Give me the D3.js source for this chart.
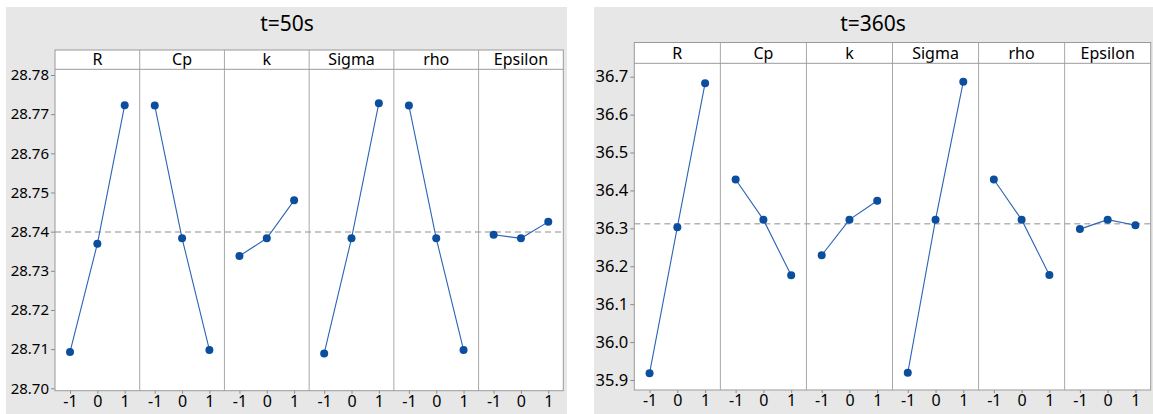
<!DOCTYPE html>
<html>
<head>
<meta charset="utf-8">
<script src="https://cdn.jsdelivr.net/npm/d3@7"></script>
<style>
  html, body { margin: 0; padding: 0; background: #fff; }
  svg { display: block; font-family: "Noto Sans", "Open Sans", sans-serif; }
  .frame { fill: none; stroke: #9a9a9a; stroke-width: 1; }
  .divider { stroke: #a8a8a8; stroke-width: 1; }
  .ref { stroke: #b4b4b4; stroke-width: 1.5; stroke-dasharray: 6 4; }
  .effect { fill: none; stroke: #2b64b4; stroke-width: 1.1; }
  .dot { fill: #0c4e9e; }
</style>
</head>
<body>
<svg id="chart" width="1153" height="414"></svg>
<script>
const factors = ["R", "Cp", "k", "Sigma", "rho", "Epsilon"];
const levels = [-1, 0, 1];

const titles = ["t=50s", "t=360s"];

// mean response per factor level (-1, 0, 1)
const values50 = [
  [28.7093, 28.7369, 28.7723],
  [28.7722, 28.7383, 28.7098],
  [28.7338, 28.7383, 28.7480],
  [28.7089, 28.7383, 28.7728],
  [28.7722, 28.7383, 28.7098],
  [28.7392, 28.7383, 28.7425]
];
const values360 = [
  [35.918, 36.303, 36.683],
  [36.429, 36.323, 36.176],
  [36.229, 36.323, 36.373],
  [35.919, 36.323, 36.687],
  [36.429, 36.323, 36.177],
  [36.298, 36.323, 36.308]
];

const grandMeans = [28.7399, 36.312];

const yTicks50 = [28.70, 28.71, 28.72, 28.73, 28.74, 28.75, 28.76, 28.77, 28.78];
const yTicks360 = [35.9, 36.0, 36.1, 36.2, 36.3, 36.4, 36.5, 36.6, 36.7];

const svg = d3.select("#chart");

const panels = [
  {
    title: titles[0], values: values50, mean: grandMeans[0], ticks: yTicks50, fmt: d3.format(".2f"),
    bg: [6, 7, 567, 414], frame: [55, 563.3], strip: [50, 69.3], plotBottom: 390.7,
    yDomain: [28.70, 28.78], yRange: [388.3, 75], tickFont: 15, titleX: 287
  },
  {
    title: titles[1], values: values360, mean: grandMeans[1], ticks: yTicks360, fmt: d3.format(".1f"),
    bg: [594, 7, 1153, 414], frame: [634.3, 1150.7], strip: [42.5, 63.3], plotBottom: 390,
    yDomain: [35.9, 36.7], yRange: [380, 76.7], tickFont: 16.5, titleX: 873
  }
];

const styleAxisText = (a, size) => {
  a.select(".domain").remove();
  a.selectAll("line").attr("stroke", "#8a8a8a");
  a.selectAll("text")
    .attr("font-size", size)
    .attr("font-family", "'Noto Sans', sans-serif")
    .attr("fill", "#000");
};

const drawPanel = (p) => {
  const g = svg.append("g");
  const [bx0, by0, bx1, by1] = p.bg;
  g.append("rect")
    .attr("x", bx0).attr("y", by0)
    .attr("width", bx1 - bx0).attr("height", by1 - by0)
    .attr("fill", "#e7e7e7");

  g.append("text")
    .attr("x", p.titleX).attr("y", 31)
    .attr("text-anchor", "middle")
    .attr("font-size", 21)
    .attr("fill", "#000")
    .text(p.title);

  const [x0, x1] = p.frame;
  const [sTop, sBottom] = p.strip;

  const fx = d3.scaleBand().domain(factors).range([x0, x1]);
  const y = d3.scaleLinear().domain(p.yDomain).range(p.yRange);

  g.append("rect")
    .attr("x", x0).attr("y", sTop)
    .attr("width", x1 - x0).attr("height", p.plotBottom - sTop)
    .attr("fill", "#fff");

  // y axis
  g.append("g")
    .attr("transform", `translate(${x0},0)`)
    .call(d3.axisLeft(y).tickValues(p.ticks).tickFormat(p.fmt).tickSize(4).tickPadding(2))
    .call((a) => styleAxisText(a, p.tickFont));

  // reference line at grand mean
  g.append("line")
    .attr("class", "ref")
    .attr("x1", x0).attr("x2", x1)
    .attr("y1", y(p.mean)).attr("y2", y(p.mean));

  factors.forEach((f, i) => {
    const left = fx(f);
    const x = d3.scaleLinear().domain([-1.55, 1.55]).range([left, left + fx.bandwidth()]);

    g.append("text")
      .attr("x", left + fx.bandwidth() / 2)
      .attr("y", sBottom - 4.5)
      .attr("text-anchor", "middle")
      .attr("font-size", 16)
      .attr("fill", "#000")
      .text(f);

    if (i > 0) {
      g.append("line")
        .attr("class", "divider")
        .attr("x1", left).attr("x2", left)
        .attr("y1", sTop).attr("y2", p.plotBottom);
    }

    g.append("g")
      .attr("transform", `translate(0,${p.plotBottom})`)
      .call(d3.axisBottom(x).tickValues(levels).tickFormat(d3.format("d")).tickSize(3).tickPadding(2))
      .call((a) => styleAxisText(a, 16))
      .call((a) => a.selectAll("text").text((d) => (d < 0 ? "-" + Math.abs(d) : d)));

    const pts = levels.map((lv, j) => [x(lv), y(p.values[i][j])]);

    g.append("path")
      .attr("class", "effect")
      .attr("d", d3.line()(pts));

    g.selectAll(null)
      .data(pts)
      .enter()
      .append("circle")
      .attr("class", "dot")
      .attr("cx", (d) => d[0])
      .attr("cy", (d) => d[1])
      .attr("r", 4);
  });

  g.append("line")
    .attr("stroke", "#9a9a9a")
    .attr("x1", x0).attr("x2", x1)
    .attr("y1", sBottom).attr("y2", sBottom);

  g.append("rect")
    .attr("class", "frame")
    .attr("x", x0).attr("y", sTop)
    .attr("width", x1 - x0).attr("height", p.plotBottom - sTop);
};

panels.forEach(drawPanel);
</script>
</body>
</html>
